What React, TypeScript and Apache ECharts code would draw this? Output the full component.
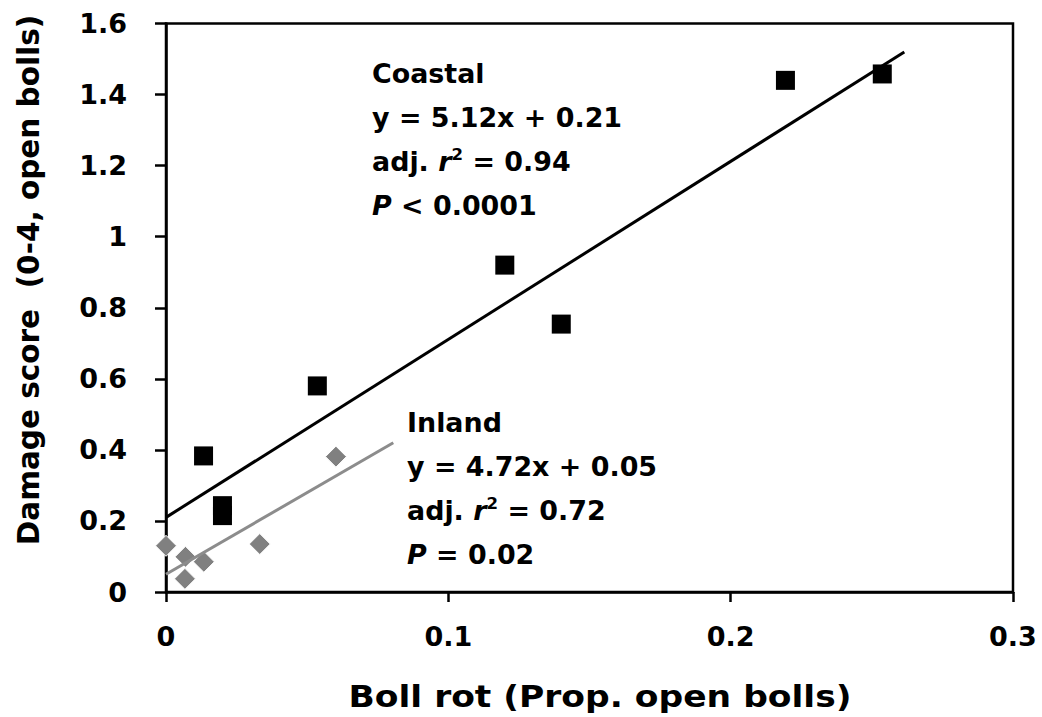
import React, { useEffect, useRef } from "react";
import * as echarts from "echarts";

const coastalPoints: [number, number][] = [
  [0.0133, 0.383],
  [0.02, 0.243],
  [0.02, 0.215],
  [0.0536, 0.58],
  [0.12, 0.92],
  [0.14, 0.754],
  [0.2194, 1.44],
  [0.2537, 1.458],
];
const inlandPoints: [number, number][] = [
  [0.0, 0.13],
  [0.0069, 0.099],
  [0.0134, 0.085],
  [0.0067, 0.037],
  [0.0332, 0.135],
  [0.0602, 0.381],
];
const coastalTrend: [number, number][] = [
  [0, 0.21],
  [0.2615, 1.52],
];
const inlandTrend: [number, number][] = [
  [0, 0.05],
  [0.0805, 0.42],
];
const coastalLabels = ["Coastal", "y = 5.12x + 0.21", "adj. {i|r}{sup|2} = 0.94", "{i|P} < 0.0001"];
const inlandLabels = ["Inland", "y = 4.72x + 0.05", "adj. {i|r}{sup|2} = 0.72", "{i|P} = 0.02"];
const xTitle = "Boll rot (Prop. open bolls)";
const yTitle = "Damage score  (0-4, open bolls)";

const FONT = "'DejaVu Sans', sans-serif";

function annot(lines: string[], x: number, y0: number, step: number) {
  return lines.map((t, i) => ({
    type: "text",
    x,
    y: y0 + i * step,
    scaleX: 1.035,
    z: 10,
    style: {
      text: t,
      fill: "#000",
      fontFamily: FONT,
      fontWeight: "bold",
      fontSize: 26,
      verticalAlign: "middle",
      align: "left",
      rich: {
        i: { fontStyle: "italic", fontWeight: "bold", fontSize: 26, fontFamily: FONT, fill: "#000" },
        sup: { fontWeight: "bold", fontSize: 16, fontFamily: FONT, fill: "#000", padding: [0, 0, 14, 0] },
      },
    },
  }));
}

export default function App() {
  const ref = useRef<HTMLDivElement>(null);
  useEffect(() => {
    document.body.style.margin = "0";
    if (!ref.current) return;
    const chart = echarts.init(ref.current, undefined, { renderer: "svg" });
    const axisLabel = { color: "#000", fontFamily: FONT, fontWeight: "bold", fontSize: 27 };
    chart.setOption({
      animation: false,
      backgroundColor: "#fff",
      grid: {
        left: 166,
        right: 29,
        top: 23.5,
        bottom: 125,
        show: true,
        borderColor: "#000",
        borderWidth: 2.5,
      },
      xAxis: {
        type: "value",
        min: 0,
        max: 0.3,
        interval: 0.1,
        axisLine: { lineStyle: { color: "#000", width: 2.5 } },
        axisTick: { show: true, length: 10, lineStyle: { color: "#000", width: 2.5 } },
        splitLine: { show: false },
        axisLabel: { ...axisLabel, margin: 31 },
      },
      yAxis: {
        type: "value",
        min: 0,
        max: 1.6,
        interval: 0.2,
        axisLine: { show: true, lineStyle: { color: "#000", width: 2.5 } },
        axisTick: { show: true, length: 11, lineStyle: { color: "#000", width: 2.5 } },
        splitLine: { show: false },
        axisLabel: { ...axisLabel, margin: 39 },
      },
      graphic: [
        ...annot(coastalLabels, 372, 74, 44),
        ...annot(inlandLabels, 407, 423, 44),
        {
          type: "text",
          x: 600,
          y: 697,
          scaleX: 1.15,
          style: {
            text: xTitle,
            fill: "#000",
            fontFamily: FONT,
            fontWeight: "bold",
            fontSize: 30,
            align: "center",
            verticalAlign: "middle",
          },
        },
        {
          type: "text",
          x: 29,
          y: 280,
          rotation: Math.PI / 2,
          style: {
            text: yTitle,
            fill: "#000",
            fontFamily: FONT,
            fontWeight: "bold",
            fontSize: 29.5,
            align: "center",
            verticalAlign: "middle",
          },
        },
      ],
      series: [
        {
          type: "scatter",
          data: coastalPoints,
          symbol: "rect",
          symbolSize: 19,
          itemStyle: { color: "#000", opacity: 1 },
        },
        {
          type: "scatter",
          data: inlandPoints,
          symbol: "diamond",
          symbolSize: 21,
          itemStyle: { color: "#808080", borderColor: "#fff", borderWidth: 1, opacity: 1 },
        },
        {
          type: "line",
          data: coastalTrend,
          symbol: "none",
          lineStyle: { color: "#000", width: 3 },
          z: 3,
        },
        {
          type: "line",
          data: inlandTrend,
          symbol: "none",
          lineStyle: { color: "#8c8c8c", width: 3 },
          z: 3,
        },
      ],
    });
    return () => chart.dispose();
  }, []);
  return <div ref={ref} style={{ width: 1042, height: 717 }} />;
}
